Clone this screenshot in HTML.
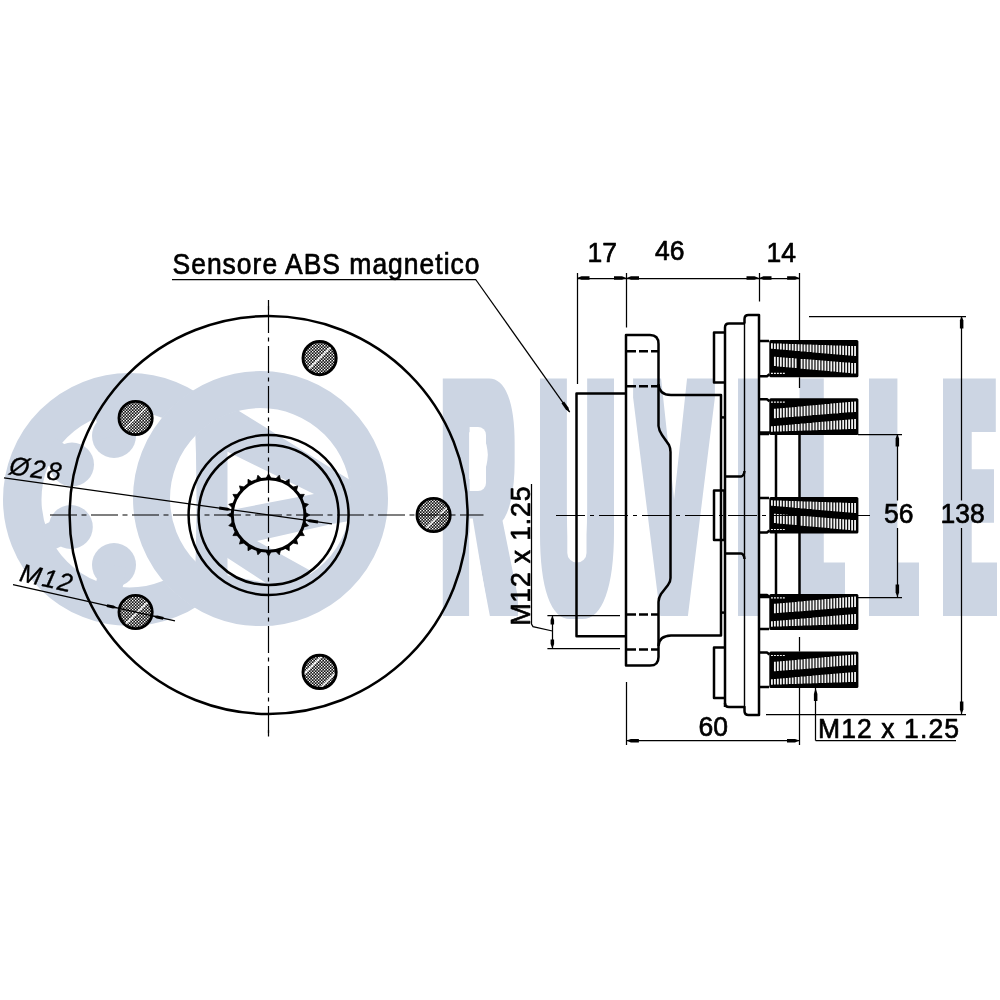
<!DOCTYPE html>
<html lang="it"><head><meta charset="utf-8"><title>RUVILLE</title>
<style>
html,body{margin:0;padding:0;background:#fff;}
body{width:1000px;height:1000px;position:relative;overflow:hidden;font-family:"Liberation Sans",sans-serif;}
svg{position:absolute;left:0;top:0;}
#dr{filter:grayscale(1);}
#wmt{position:absolute;left:0;top:0;width:1000px;height:100px;white-space:nowrap;color:#ccd5e3;font-family:"Liberation Sans",sans-serif;font-weight:bold;font-size:100px;line-height:100px;}
#wmt i{display:inline-block;width:0;height:100px;vertical-align:top;font-style:normal;}
#wmt b{display:inline-block;height:100px;vertical-align:top;transform-origin:0 0;white-space:pre;}
.fa{filter:url(#dila)}
.fb{filter:url(#dilb)}
.fc{filter:url(#dilc)}
text{font-family:"Liberation Sans",sans-serif;fill:#000;font-size:26.5px;stroke:#000;stroke-width:0.65px;stroke-linejoin:round;}
.t{stroke:#000;stroke-width:2.5;fill:none;stroke-linejoin:round;stroke-linecap:butt}
.m{stroke:#000;stroke-width:1.4;fill:none;}
.n{stroke:#000;stroke-width:1.25;fill:none;}
.c{stroke:#000;stroke-width:1.2;fill:none;stroke-dasharray:27 4.5 5 4.5;}
.d{stroke:#000;stroke-width:2.5;fill:none;stroke-dasharray:9 3;}
.a{fill:#000;stroke:none}
</style></head><body>

<svg width="1000" height="1000" viewBox="0 0 1000 1000">
<defs>
<filter id="dila" x="-50" y="-50" width="1100" height="1100" filterUnits="userSpaceOnUse"><feMorphology operator="dilate" radius="6 9"/></filter>
<filter id="dilb" x="-50" y="-50" width="1100" height="1100" filterUnits="userSpaceOnUse"><feMorphology operator="dilate" radius="10 9"/></filter>
<filter id="dilc" x="-50" y="-50" width="1100" height="1100" filterUnits="userSpaceOnUse"><feMorphology operator="dilate" radius="8 9"/></filter>
<clipPath id="disk"><circle cx="260.5" cy="498.6" r="91"/></clipPath>
</defs>
<g fill="#ccd5e3" stroke="none">
<circle cx="129.5" cy="499.5" r="107.25" fill="none" stroke="#ccd5e3" stroke-width="38.5"/>
<circle cx="72.0" cy="464.5" r="22"/>
<line x1="72.0" y1="464.5" x2="48.1" y2="449.9" stroke="#ccd5e3" stroke-width="27"/>
<circle cx="70.8" cy="527.0" r="22"/>
<line x1="70.8" y1="527.0" x2="45.4" y2="538.9" stroke="#ccd5e3" stroke-width="27"/>
<circle cx="114.0" cy="436.0" r="22"/>
<line x1="114.0" y1="436.0" x2="107.4" y2="408.8" stroke="#ccd5e3" stroke-width="27"/>
<circle cx="114.0" cy="565.0" r="22"/>
<line x1="114.0" y1="565.0" x2="107.6" y2="592.2" stroke="#ccd5e3" stroke-width="27"/>
</g>
<circle cx="260.5" cy="498.6" r="127" fill="#fff"/>
<circle cx="260.5" cy="498.6" r="109" fill="none" stroke="#ccd5e3" stroke-width="37"/>
<g clip-path="url(#disk)" fill="#ccd5e3">
<path d="M194,400 Q199,498 194,600 L227.5,600 L227.5,400 Z"/>
<polygon points="226,400 239,411 350,480 356,500 314,494 226,451"/>
<polygon points="226,511 314,494 356,486 356,520 332,524 257,541 311,571 300,600 226,600 226,575 266,583 226,557"/>
</g>
</svg>
<div id="wmt">
<i class="fa"><b style="transform:matrix(0.9968,0,0,3.1904,442.12,335.82)">R</b></i><i class="fa"><b style="transform:matrix(1.0316,0,0,3.1904,539.81,335.82)">U</b></i><i class="fa"><b style="transform:matrix(1.0720,0,0,3.1904,638.25,335.82)">V</b></i><i class="fa"><b style="transform:matrix(0.5903,0,0,3.1904,740.05,335.82)">I</b></i><i class="fc"><b style="transform:matrix(0.5750,0,0,3.1904,803.65,335.82)">L</b></i><i class="fb"><b style="transform:matrix(0.5848,0,0,3.1904,875.08,335.82)">L</b></i><i class="fb"><b style="transform:matrix(0.6061,0,0,3.1904,948.94,335.82)">E</b></i>
</div>
<svg id="dr" width="1000" height="1000" viewBox="0 0 1000 1000">
<defs><pattern id="hz" width="3" height="3" patternUnits="userSpaceOnUse"><rect width="3" height="3" fill="#141414"/><rect width="1.35" height="1.35" fill="#fff"/><rect x="1.5" y="1.5" width="1.35" height="1.35" fill="#fff"/></pattern></defs>
<g fill="#fff" stroke="none">
<path d="M567.3,378 L567.3,553 A9.6,9.6 0 0 0 586.5,553 L586.5,378 Z"/>
<path d="M469.6,427 L478,427 A8,8 0 0 1 486,435 L486,483 A8,8 0 0 1 478,491 L469.6,491 Z"/>
<polygon points="469.6,518.6 472.7,518.6 489,616.5 469.6,616.5"/>
</g>
<circle class="t" cx="268.6" cy="515" r="199"/>
<circle class="t" cx="268.6" cy="515" r="80"/>
<circle class="t" cx="268.6" cy="515" r="70"/>
<circle cx="268.6" cy="515" r="36.3" fill="none" stroke="#000" stroke-width="3"/>
<path d="M305.7,512.7L309.8,515.0L305.7,517.3ZM305.1,522.4L308.4,525.7L303.9,526.9ZM301.9,531.5L304.3,535.6L299.6,535.6ZM296.5,539.6L297.7,544.1L293.2,542.9ZM289.2,546.0L289.2,550.7L285.1,548.3ZM280.5,550.3L279.3,554.8L276.0,551.5ZM270.9,552.1L268.6,556.2L266.3,552.1ZM261.2,551.5L257.9,554.8L256.7,550.3ZM252.1,548.3L248.0,550.7L248.0,546.0ZM244.0,542.9L239.5,544.1L240.7,539.6ZM237.6,535.6L232.9,535.6L235.3,531.5ZM233.3,526.9L228.8,525.7L232.1,522.4ZM231.5,517.3L227.4,515.0L231.5,512.7ZM232.1,507.6L228.8,504.3L233.3,503.1ZM235.3,498.5L232.9,494.4L237.6,494.4ZM240.7,490.4L239.5,485.9L244.0,487.1ZM248.0,484.0L248.0,479.3L252.1,481.7ZM256.7,479.7L257.9,475.2L261.2,478.5ZM266.3,477.9L268.6,473.8L270.9,477.9ZM276.0,478.5L279.3,475.2L280.5,479.7ZM285.1,481.7L289.2,479.3L289.2,484.0ZM293.2,487.1L297.7,485.9L296.5,490.4ZM299.6,494.4L304.3,494.4L301.9,498.5ZM303.9,503.1L308.4,504.3L305.1,507.6Z" fill="#000" stroke="#000" stroke-width="0.8"/>
<clipPath id="bc0"><circle cx="433.6" cy="515.0" r="15.2"/></clipPath>
<circle cx="433.6" cy="515.0" r="16.6" fill="url(#hz)" stroke="#000" stroke-width="2.9"/>
<line clip-path="url(#bc0)" x1="416.6" y1="538.0" x2="456.6" y2="498.0" stroke="#fff" stroke-width="1.25"/>
<clipPath id="bc1"><circle cx="319.6" cy="358.1" r="15.2"/></clipPath>
<circle cx="319.6" cy="358.1" r="16.6" fill="url(#hz)" stroke="#000" stroke-width="2.9"/>
<line clip-path="url(#bc1)" x1="299.6" y1="378.1" x2="339.6" y2="338.1" stroke="#fff" stroke-width="1.25"/>
<clipPath id="bc2"><circle cx="135.6" cy="418.0" r="15.2"/></clipPath>
<circle cx="135.6" cy="418.0" r="16.6" fill="url(#hz)" stroke="#000" stroke-width="2.9"/>
<line clip-path="url(#bc2)" x1="115.6" y1="438.0" x2="155.6" y2="398.0" stroke="#fff" stroke-width="1.25"/>
<clipPath id="bc3"><circle cx="135.6" cy="612.0" r="15.2"/></clipPath>
<circle cx="135.6" cy="612.0" r="16.6" fill="url(#hz)" stroke="#000" stroke-width="2.9"/>
<line clip-path="url(#bc3)" x1="116.6" y1="633.0" x2="156.6" y2="593.0" stroke="#fff" stroke-width="1.25"/>
<clipPath id="bc4"><circle cx="319.6" cy="671.9" r="15.2"/></clipPath>
<circle cx="319.6" cy="671.9" r="16.6" fill="url(#hz)" stroke="#000" stroke-width="2.9"/>
<line clip-path="url(#bc4)" x1="292.8" y1="685.2" x2="332.8" y2="645.2" stroke="#fff" stroke-width="1.25"/>
<line clip-path="url(#bc4)" x1="308.1" y1="700.4" x2="348.1" y2="660.4" stroke="#fff" stroke-width="1.25"/>
<line class="c" x1="50" y1="515" x2="483.5" y2="515" style="stroke-dasharray:27 4.5 5 4.5"/>
<line class="n" x1="268.5" y1="300" x2="268.5" y2="310"/>
<line class="c" x1="268.5" y1="306" x2="268.5" y2="736.5" style="stroke-dasharray:27 4.5 4 4.5"/>
<line class="n" x1="268.5" y1="730" x2="268.5" y2="736.5"/>
<line class="n" x1="4.00" y1="477.96" x2="332.00" y2="523.88"/>
<polygon class="a" points="232.1,509.9 227.9,507.8 219.4,506.6 219.0,509.6 227.4,510.8"/>
<polygon class="a" points="305.1,520.1 309.3,522.2 317.8,523.4 318.2,520.4 309.8,519.2"/>
<text transform="translate(8.5,474.1) rotate(7.47)" font-style="italic" style="font-size:25.5px;stroke-width:0.35px" textLength="52" lengthAdjust="spacing">Ø28</text>
<line class="n" x1="13.00" y1="584.55" x2="175.00" y2="620.95"/>
<polygon class="a" points="117.6,608.1 113.6,605.6 107.2,604.2 106.6,607.1 112.9,608.5"/>
<polygon class="a" points="152.6,615.9 156.7,618.4 163.0,619.8 163.7,616.9 157.3,615.4"/>
<text transform="translate(18.5,580.8) rotate(12.66)" font-style="italic" style="font-size:25.5px;stroke-width:0.35px" textLength="53" lengthAdjust="spacing">M12</text>
<text transform="translate(172.5,273.7) scale(1,1.1)" font-size="26.5" textLength="307" lengthAdjust="spacing">Sensore ABS magnetico</text>
<line class="n" x1="172.00" y1="279.50" x2="476.00" y2="279.50"/>
<line class="n" x1="475.70" y1="279.50" x2="569.70" y2="412.20"/>
<polygon class="a" points="569.7,412.2 568.4,407.6 564.1,401.5 561.5,403.3 565.8,409.5"/>
<polyline class="t" points="626,393.5 576.5,393.5 576.5,636.2 626,636.2"/>
<path class="t" d="M626,335 L650,335 Q658.5,335 658.5,344 L658.5,426 Q659,431 662,435 L669,445 Q670.5,448 670.5,452 L670.5,578 Q670.5,582 668,585 L661,594 Q658.5,598 658.5,602 L658.5,657 Q658.5,665.6 650,665.6 L626,665.6 Z"/>
<path class="t" d="M658.5,384 Q659,395 671,395 L721,395 L721,635.6 L671,635.6 Q659,636 658.5,646"/>
<line class="d" x1="627.00" y1="351.20" x2="658.00" y2="351.20"/>
<line class="d" x1="627.00" y1="386.20" x2="658.00" y2="386.20"/>
<line class="d" x1="627.00" y1="614.40" x2="658.00" y2="614.40"/>
<line class="d" x1="627.00" y1="649.40" x2="658.00" y2="649.40"/>
<path class="t" d="M725,707 L725,327.5 Q725,323.5 729,323.5 L744.5,323.5"/>
<path class="t" d="M744.5,323.5 L744.5,319 Q744.5,315 748.5,315 L759,315 L759,715 L748.5,715 Q744.5,715 744.5,711 L744.5,707 L729,707 Q725,707 725,703"/>
<line class="m" x1="744.50" y1="323.00" x2="744.50" y2="707.00"/>
<polyline class="t" points="725,332.5 714,332.5 714,382.5 725,382.5"/>
<polyline class="t" points="725,647.4 714,647.4 714,698 725,698"/>
<rect x="714" y="490.4" width="10.5" height="49.6" fill="#fff" class="t"/>
<path class="t" d="M725,476.4 L741,476.4 Q744,476 744.5,471"/>
<path class="t" d="M725,553.6 L741,553.6 Q744,554 744.5,559"/>
<line class="t" x1="721.00" y1="417.40" x2="725.00" y2="417.40"/>
<line class="t" x1="721.00" y1="612.60" x2="725.00" y2="612.60"/>
<line class="t" x1="776.00" y1="435.00" x2="776.00" y2="497.00"/>
<line class="t" x1="799.50" y1="435.00" x2="799.50" y2="497.00"/>
<line class="t" x1="776.00" y1="533.00" x2="776.00" y2="594.00"/>
<line class="t" x1="799.50" y1="533.00" x2="799.50" y2="594.00"/>
<line class="t" x1="759.00" y1="432.50" x2="776.00" y2="432.50"/>
<line class="t" x1="759.00" y1="597.00" x2="776.00" y2="597.00"/>
<path class="t" d="M759,341 L769,341 M759,376.3 L767,376.3 L769.5,374.3"/>
<rect x="769.3" y="340" width="89.1" height="37.3" rx="1.5" fill="#000"/>
<path d="M771.00,343.3h1.8v5.5h-1.8zM773.97,343.4h1.8v5.7h-1.8zM773.97,356.7h1.8v9.4h-1.8zM776.94,343.5h1.8v5.8h-1.8zM776.94,357.0h1.8v9.5h-1.8zM779.91,343.6h1.8v6.0h-1.8zM779.91,357.2h1.8v9.5h-1.8zM782.88,343.7h1.8v6.1h-1.8zM782.88,357.4h1.8v9.6h-1.8zM785.85,343.8h1.8v6.3h-1.8zM785.85,357.7h1.8v9.6h-1.8zM788.82,343.9h1.8v6.4h-1.8zM788.82,357.9h1.8v9.6h-1.8zM791.79,344.0h1.8v6.6h-1.8zM791.79,358.1h1.8v9.7h-1.8zM794.76,344.1h1.8v6.8h-1.8zM794.76,358.4h1.8v9.7h-1.8zM797.73,344.2h1.8v6.9h-1.8zM800.70,344.3h1.8v7.1h-1.8zM800.70,358.9h1.8v9.8h-1.8zM803.67,344.4h1.8v7.2h-1.8zM803.67,359.1h1.8v9.8h-1.8zM806.64,344.5h1.8v7.4h-1.8zM806.64,359.3h1.8v9.9h-1.8zM809.61,344.6h1.8v7.5h-1.8zM809.61,359.6h1.8v9.9h-1.8zM812.58,344.7h1.8v7.7h-1.8zM812.58,359.8h1.8v9.9h-1.8zM815.55,344.8h1.8v7.9h-1.8zM815.55,360.0h1.8v10.0h-1.8zM818.52,344.9h1.8v8.0h-1.8zM818.52,360.3h1.8v10.0h-1.8zM821.49,345.0h1.8v8.2h-1.8zM821.49,360.5h1.8v10.1h-1.8zM824.46,345.1h1.8v8.3h-1.8zM824.46,360.7h1.8v10.1h-1.8zM827.43,345.2h1.8v8.5h-1.8zM827.43,361.0h1.8v10.1h-1.8zM830.40,345.3h1.8v8.6h-1.8zM830.40,361.2h1.8v10.2h-1.8zM833.37,345.4h1.8v8.8h-1.8zM833.37,361.4h1.8v10.2h-1.8zM836.34,345.5h1.8v9.0h-1.8zM836.34,361.7h1.8v10.3h-1.8zM839.31,345.6h1.8v9.1h-1.8zM839.31,361.9h1.8v10.3h-1.8zM842.28,345.7h1.8v9.3h-1.8zM842.28,362.2h1.8v10.3h-1.8zM845.25,345.8h1.8v9.4h-1.8zM845.25,362.4h1.8v10.4h-1.8zM848.22,345.9h1.8v9.6h-1.8zM848.22,362.6h1.8v10.4h-1.8zM851.19,346.0h1.8v9.7h-1.8zM851.19,362.9h1.8v10.5h-1.8zM854.16,346.1h1.8v9.9h-1.8zM854.16,363.1h1.8v10.5h-1.8z" fill="#f2f2f2"/>
<path d="M771.00,372.8h1.9v1.2h-1.9zM773.97,372.8h1.9v1.2h-1.9zM776.94,372.8h1.9v1.2h-1.9zM779.91,372.8h1.9v1.2h-1.9zM782.88,372.8h1.9v1.2h-1.9z" fill="#f2f2f2"/>
<path class="t" d="M759,434 L769,434 M759,399.2 L767,399.2 L769.5,401.2"/>
<rect x="769.3" y="398.2" width="89.1" height="36.8" rx="1.5" fill="#000"/>
<path d="M771.00,426.2h1.8v5.5h-1.8zM773.97,425.9h1.8v5.7h-1.8zM773.97,408.8h1.8v9.4h-1.8zM776.94,425.7h1.8v5.8h-1.8zM776.94,408.6h1.8v9.5h-1.8zM779.91,425.4h1.8v6.0h-1.8zM779.91,408.3h1.8v9.5h-1.8zM782.88,425.2h1.8v6.1h-1.8zM782.88,408.0h1.8v9.6h-1.8zM785.85,424.9h1.8v6.3h-1.8zM785.85,407.7h1.8v9.6h-1.8zM788.82,424.7h1.8v6.4h-1.8zM788.82,407.4h1.8v9.6h-1.8zM791.79,424.4h1.8v6.6h-1.8zM791.79,407.2h1.8v9.7h-1.8zM794.76,424.1h1.8v6.8h-1.8zM794.76,406.9h1.8v9.7h-1.8zM797.73,423.9h1.8v6.9h-1.8zM797.73,406.6h1.8v9.8h-1.8zM800.70,423.6h1.8v7.1h-1.8zM800.70,406.4h1.8v9.8h-1.8zM803.67,423.4h1.8v7.2h-1.8zM803.67,406.1h1.8v9.8h-1.8zM806.64,423.1h1.8v7.4h-1.8zM806.64,405.8h1.8v9.9h-1.8zM809.61,422.9h1.8v7.5h-1.8zM809.61,405.5h1.8v9.9h-1.8zM812.58,422.6h1.8v7.7h-1.8zM812.58,405.2h1.8v9.9h-1.8zM815.55,422.3h1.8v7.9h-1.8zM815.55,405.0h1.8v10.0h-1.8zM818.52,422.1h1.8v8.0h-1.8zM818.52,404.7h1.8v10.0h-1.8zM821.49,421.8h1.8v8.2h-1.8zM821.49,404.4h1.8v10.1h-1.8zM824.46,421.6h1.8v8.3h-1.8zM824.46,404.1h1.8v10.1h-1.8zM827.43,421.3h1.8v8.5h-1.8zM827.43,403.9h1.8v10.1h-1.8zM830.40,421.1h1.8v8.6h-1.8zM830.40,403.6h1.8v10.2h-1.8zM833.37,420.8h1.8v8.8h-1.8zM833.37,403.3h1.8v10.2h-1.8zM836.34,420.5h1.8v9.0h-1.8zM836.34,403.1h1.8v10.3h-1.8zM839.31,420.3h1.8v9.1h-1.8zM839.31,402.8h1.8v10.3h-1.8zM842.28,420.0h1.8v9.3h-1.8zM842.28,402.5h1.8v10.3h-1.8zM845.25,419.8h1.8v9.4h-1.8zM845.25,402.2h1.8v10.4h-1.8zM848.22,419.5h1.8v9.6h-1.8zM848.22,401.9h1.8v10.4h-1.8zM851.19,419.3h1.8v9.7h-1.8zM851.19,401.7h1.8v10.5h-1.8zM854.16,419.0h1.8v9.9h-1.8zM854.16,401.4h1.8v10.5h-1.8z" fill="#f2f2f2"/>
<path d="M771.00,401.5h1.9v1.2h-1.9zM773.97,401.5h1.9v1.2h-1.9zM776.94,401.5h1.9v1.2h-1.9zM779.91,401.5h1.9v1.2h-1.9zM782.88,401.5h1.9v1.2h-1.9z" fill="#f2f2f2"/>
<path class="t" d="M759,498 L769,498 M759,532.4 L767,532.4 L769.5,530.4"/>
<rect x="769.3" y="497" width="89.1" height="36.4" rx="1.5" fill="#000"/>
<path d="M771.00,500.3h1.8v5.5h-1.8zM773.97,500.4h1.8v5.7h-1.8zM773.97,513.7h1.8v9.4h-1.8zM776.94,500.5h1.8v5.8h-1.8zM776.94,514.0h1.8v9.5h-1.8zM779.91,500.6h1.8v6.0h-1.8zM779.91,514.2h1.8v9.5h-1.8zM782.88,500.7h1.8v6.1h-1.8zM782.88,514.4h1.8v9.6h-1.8zM785.85,500.8h1.8v6.3h-1.8zM785.85,514.7h1.8v9.6h-1.8zM788.82,500.9h1.8v6.4h-1.8zM788.82,514.9h1.8v9.6h-1.8zM791.79,501.0h1.8v6.6h-1.8zM791.79,515.1h1.8v9.7h-1.8zM794.76,501.1h1.8v6.8h-1.8zM794.76,515.4h1.8v9.7h-1.8zM797.73,501.2h1.8v6.9h-1.8zM800.70,501.3h1.8v7.1h-1.8zM800.70,515.9h1.8v9.8h-1.8zM803.67,501.4h1.8v7.2h-1.8zM803.67,516.1h1.8v9.8h-1.8zM806.64,501.5h1.8v7.4h-1.8zM806.64,516.3h1.8v9.9h-1.8zM809.61,501.6h1.8v7.5h-1.8zM809.61,516.6h1.8v9.9h-1.8zM812.58,501.7h1.8v7.7h-1.8zM812.58,516.8h1.8v10.0h-1.8zM815.55,501.8h1.8v7.9h-1.8zM815.55,517.0h1.8v10.0h-1.8zM818.52,501.9h1.8v8.0h-1.8zM818.52,517.3h1.8v10.0h-1.8zM821.49,502.0h1.8v8.2h-1.8zM821.49,517.5h1.8v10.1h-1.8zM824.46,502.1h1.8v8.3h-1.8zM824.46,517.7h1.8v10.1h-1.8zM827.43,502.2h1.8v8.5h-1.8zM827.43,518.0h1.8v10.1h-1.8zM830.40,502.3h1.8v8.6h-1.8zM830.40,518.2h1.8v10.2h-1.8zM833.37,502.4h1.8v8.8h-1.8zM833.37,518.5h1.8v10.2h-1.8zM836.34,502.5h1.8v9.0h-1.8zM836.34,518.7h1.8v10.3h-1.8zM839.31,502.6h1.8v9.1h-1.8zM839.31,518.9h1.8v10.3h-1.8zM842.28,502.7h1.8v9.3h-1.8zM842.28,519.2h1.8v10.3h-1.8zM845.25,502.8h1.8v9.4h-1.8zM845.25,519.4h1.8v10.4h-1.8zM848.22,502.9h1.8v9.6h-1.8zM848.22,519.6h1.8v10.4h-1.8zM851.19,503.0h1.8v9.7h-1.8zM851.19,519.9h1.8v10.5h-1.8zM854.16,503.1h1.8v9.9h-1.8zM854.16,520.1h1.8v10.5h-1.8z" fill="#f2f2f2"/>
<path d="M771.00,528.9h1.9v1.2h-1.9zM773.97,528.9h1.9v1.2h-1.9zM776.94,528.9h1.9v1.2h-1.9zM779.91,528.9h1.9v1.2h-1.9zM782.88,528.9h1.9v1.2h-1.9z" fill="#f2f2f2"/>
<path class="t" d="M759,629 L769,629 M759,595 L767,595 L769.5,597"/>
<rect x="769.3" y="594" width="89.1" height="36.0" rx="1.5" fill="#000"/>
<path d="M771.00,621.2h1.8v5.5h-1.8zM773.97,620.9h1.8v5.7h-1.8zM773.97,603.8h1.8v9.4h-1.8zM776.94,620.7h1.8v5.8h-1.8zM776.94,603.5h1.8v9.5h-1.8zM779.91,620.4h1.8v6.0h-1.8zM779.91,603.3h1.8v9.5h-1.8zM782.88,620.2h1.8v6.1h-1.8zM782.88,603.0h1.8v9.6h-1.8zM785.85,619.9h1.8v6.3h-1.8zM785.85,602.7h1.8v9.6h-1.8zM788.82,619.7h1.8v6.4h-1.8zM788.82,602.5h1.8v9.6h-1.8zM791.79,619.4h1.8v6.6h-1.8zM791.79,602.2h1.8v9.7h-1.8zM794.76,619.1h1.8v6.8h-1.8zM794.76,601.9h1.8v9.7h-1.8zM797.73,618.9h1.8v6.9h-1.8zM797.73,601.6h1.8v9.8h-1.8zM800.70,618.6h1.8v7.1h-1.8zM800.70,601.4h1.8v9.8h-1.8zM803.67,618.4h1.8v7.2h-1.8zM803.67,601.1h1.8v9.8h-1.8zM806.64,618.1h1.8v7.4h-1.8zM806.64,600.8h1.8v9.9h-1.8zM809.61,617.9h1.8v7.5h-1.8zM809.61,600.5h1.8v9.9h-1.8zM812.58,617.6h1.8v7.7h-1.8zM812.58,600.2h1.8v10.0h-1.8zM815.55,617.3h1.8v7.9h-1.8zM815.55,600.0h1.8v10.0h-1.8zM818.52,617.1h1.8v8.0h-1.8zM818.52,599.7h1.8v10.0h-1.8zM821.49,616.8h1.8v8.2h-1.8zM821.49,599.4h1.8v10.1h-1.8zM824.46,616.6h1.8v8.3h-1.8zM824.46,599.1h1.8v10.1h-1.8zM827.43,616.3h1.8v8.5h-1.8zM827.43,598.9h1.8v10.1h-1.8zM830.40,616.1h1.8v8.6h-1.8zM830.40,598.6h1.8v10.2h-1.8zM833.37,615.8h1.8v8.8h-1.8zM833.37,598.3h1.8v10.2h-1.8zM836.34,615.5h1.8v9.0h-1.8zM836.34,598.0h1.8v10.3h-1.8zM839.31,615.3h1.8v9.1h-1.8zM839.31,597.8h1.8v10.3h-1.8zM842.28,615.0h1.8v9.3h-1.8zM842.28,597.5h1.8v10.3h-1.8zM845.25,614.8h1.8v9.4h-1.8zM845.25,597.2h1.8v10.4h-1.8zM848.22,614.5h1.8v9.6h-1.8zM848.22,597.0h1.8v10.4h-1.8zM851.19,614.3h1.8v9.7h-1.8zM851.19,596.7h1.8v10.5h-1.8zM854.16,614.0h1.8v9.9h-1.8zM854.16,596.4h1.8v10.5h-1.8z" fill="#f2f2f2"/>
<path d="M771.00,597.3h1.9v1.2h-1.9zM773.97,597.3h1.9v1.2h-1.9zM776.94,597.3h1.9v1.2h-1.9zM779.91,597.3h1.9v1.2h-1.9zM782.88,597.3h1.9v1.2h-1.9z" fill="#f2f2f2"/>
<path class="t" d="M759,687 L769,687 M759,652.6 L767,652.6 L769.5,654.6"/>
<rect x="769.3" y="651.6" width="89.1" height="36.4" rx="1.5" fill="#000"/>
<path d="M771.00,679.2h1.8v5.5h-1.8zM773.97,678.9h1.8v5.7h-1.8zM773.97,661.8h1.8v9.4h-1.8zM776.94,678.7h1.8v5.8h-1.8zM776.94,661.5h1.8v9.5h-1.8zM779.91,678.4h1.8v6.0h-1.8zM779.91,661.3h1.8v9.5h-1.8zM782.88,678.2h1.8v6.1h-1.8zM782.88,661.0h1.8v9.6h-1.8zM785.85,677.9h1.8v6.3h-1.8zM785.85,660.7h1.8v9.6h-1.8zM788.82,677.7h1.8v6.4h-1.8zM788.82,660.5h1.8v9.6h-1.8zM791.79,677.4h1.8v6.6h-1.8zM791.79,660.2h1.8v9.7h-1.8zM794.76,677.1h1.8v6.8h-1.8zM794.76,659.9h1.8v9.7h-1.8zM797.73,676.9h1.8v6.9h-1.8zM797.73,659.6h1.8v9.8h-1.8zM800.70,676.6h1.8v7.1h-1.8zM800.70,659.4h1.8v9.8h-1.8zM803.67,676.4h1.8v7.2h-1.8zM803.67,659.1h1.8v9.8h-1.8zM806.64,676.1h1.8v7.4h-1.8zM806.64,658.8h1.8v9.9h-1.8zM809.61,675.9h1.8v7.5h-1.8zM809.61,658.5h1.8v9.9h-1.8zM812.58,675.6h1.8v7.7h-1.8zM812.58,658.2h1.8v10.0h-1.8zM815.55,675.3h1.8v7.9h-1.8zM815.55,658.0h1.8v10.0h-1.8zM818.52,675.1h1.8v8.0h-1.8zM818.52,657.7h1.8v10.0h-1.8zM821.49,674.8h1.8v8.2h-1.8zM821.49,657.4h1.8v10.1h-1.8zM824.46,674.6h1.8v8.3h-1.8zM824.46,657.1h1.8v10.1h-1.8zM827.43,674.3h1.8v8.5h-1.8zM827.43,656.9h1.8v10.1h-1.8zM830.40,674.1h1.8v8.6h-1.8zM830.40,656.6h1.8v10.2h-1.8zM833.37,673.8h1.8v8.8h-1.8zM833.37,656.3h1.8v10.2h-1.8zM836.34,673.5h1.8v9.0h-1.8zM836.34,656.0h1.8v10.3h-1.8zM839.31,673.3h1.8v9.1h-1.8zM839.31,655.8h1.8v10.3h-1.8zM842.28,673.0h1.8v9.3h-1.8zM842.28,655.5h1.8v10.3h-1.8zM845.25,672.8h1.8v9.4h-1.8zM845.25,655.2h1.8v10.4h-1.8zM848.22,672.5h1.8v9.6h-1.8zM848.22,655.0h1.8v10.4h-1.8zM851.19,672.3h1.8v9.7h-1.8zM851.19,654.7h1.8v10.5h-1.8zM854.16,672.0h1.8v9.9h-1.8zM854.16,654.4h1.8v10.5h-1.8z" fill="#f2f2f2"/>
<path d="M771.00,654.9h1.9v1.2h-1.9zM773.97,654.9h1.9v1.2h-1.9zM776.94,654.9h1.9v1.2h-1.9zM779.91,654.9h1.9v1.2h-1.9zM782.88,654.9h1.9v1.2h-1.9z" fill="#f2f2f2"/>
<line class="c" x1="556" y1="515.5" x2="870" y2="515.5" style="stroke-dasharray:29 5 4 5"/>
<line class="n" x1="577.50" y1="273.00" x2="577.50" y2="384.00"/>
<line class="n" x1="626.50" y1="273.00" x2="626.50" y2="327.50"/>
<line class="n" x1="759.50" y1="273.00" x2="759.50" y2="301.50"/>
<line class="n" x1="799.50" y1="273.00" x2="799.50" y2="340.00"/>
<line class="n" x1="799.50" y1="377.30" x2="799.50" y2="388.00"/>
<line class="n" x1="577.00" y1="278.50" x2="799.60" y2="278.50"/>
<polygon class="a" points="577.0,278.0 581.5,279.8 589.5,279.8 589.5,276.2 581.5,276.2"/>
<polygon class="a" points="626.5,278.0 622.0,276.2 614.0,276.2 614.0,279.8 622.0,279.8"/>
<polygon class="a" points="626.5,278.0 631.0,279.8 639.0,279.8 639.0,276.2 631.0,276.2"/>
<polygon class="a" points="759.0,278.0 754.5,276.2 746.5,276.2 746.5,279.8 754.5,279.8"/>
<polygon class="a" points="759.0,278.0 763.5,279.8 771.5,279.8 771.5,276.2 763.5,276.2"/>
<polygon class="a" points="799.6,278.0 795.1,276.2 787.1,276.2 787.1,279.8 795.1,279.8"/>
<text transform="translate(587.5,262) scale(1,1.03)" >17</text>
<text transform="translate(655,259.5) scale(1,1.03)" >46</text>
<text transform="translate(766.5,262.4) scale(1,1.03)" >14</text>
<line class="n" x1="626.50" y1="682.00" x2="626.50" y2="745.00"/>
<line class="n" x1="799.50" y1="637.00" x2="799.50" y2="651.60"/>
<line class="n" x1="799.50" y1="688.00" x2="799.50" y2="745.00"/>
<line class="n" x1="626.40" y1="740.50" x2="799.50" y2="740.50"/>
<polygon class="a" points="626.4,740.6 630.9,742.4 638.9,742.4 638.9,738.9 630.9,738.9"/>
<polygon class="a" points="799.5,740.6 795.0,738.9 787.0,738.9 787.0,742.4 795.0,742.4"/>
<text transform="translate(698.5,736) scale(1,1.03)" >60</text>
<line class="n" x1="858.00" y1="434.50" x2="902.00" y2="434.50"/>
<line class="n" x1="858.00" y1="597.50" x2="902.00" y2="597.50"/>
<line class="n" x1="897.50" y1="434.00" x2="897.50" y2="500.50"/>
<line class="n" x1="897.50" y1="528.00" x2="897.50" y2="597.00"/>
<polygon class="a" points="897.4,434.0 895.6,438.5 895.6,446.5 899.1,446.5 899.1,438.5"/>
<polygon class="a" points="897.4,597.0 899.1,592.5 899.1,584.5 895.6,584.5 895.6,592.5"/>
<text transform="translate(884,523) scale(1,1.03)" >56</text>
<line class="n" x1="809.00" y1="316.50" x2="966.00" y2="316.50"/>
<line class="n" x1="766.00" y1="714.50" x2="966.00" y2="714.50"/>
<line class="n" x1="961.50" y1="316.00" x2="961.50" y2="500.50"/>
<line class="n" x1="961.50" y1="528.00" x2="961.50" y2="714.00"/>
<polygon class="a" points="961.6,316.0 959.9,320.5 959.9,328.5 963.4,328.5 963.4,320.5"/>
<polygon class="a" points="961.6,714.0 963.4,709.5 963.4,701.5 959.9,701.5 959.9,709.5"/>
<text transform="translate(940.5,523) scale(1,1.03)" >138</text>
<line class="n" x1="815.50" y1="688.00" x2="815.50" y2="740.60"/>
<polygon class="a" points="815.6,688.0 813.9,694.0 813.9,701.0 817.4,701.0 817.4,694.0"/>
<line class="n" x1="815.60" y1="740.50" x2="956.00" y2="740.50"/>
<text transform="translate(818,738) scale(1,1.03)" textLength="141" lengthAdjust="spacing">M12 x 1.25</text>
<line class="n" x1="547.40" y1="615.50" x2="620.00" y2="615.50"/>
<line class="n" x1="547.40" y1="648.50" x2="620.00" y2="648.50"/>
<line class="n" x1="552.50" y1="615.40" x2="552.50" y2="648.60"/>
<polygon class="a" points="552.4,615.4 550.6,619.9 550.6,624.4 554.1,624.4 554.1,619.9"/>
<polygon class="a" points="552.4,648.6 554.1,644.1 554.1,639.6 550.6,639.6 550.6,644.1"/>
<polyline class="n" points="552.4,631 533,626.6 531.5,624 531.5,484"/>
<text transform="translate(530,625.6) rotate(-90) scale(1,1.05)" textLength="139" lengthAdjust="spacing">M12 x 1.25</text>
</svg>
</body></html>
